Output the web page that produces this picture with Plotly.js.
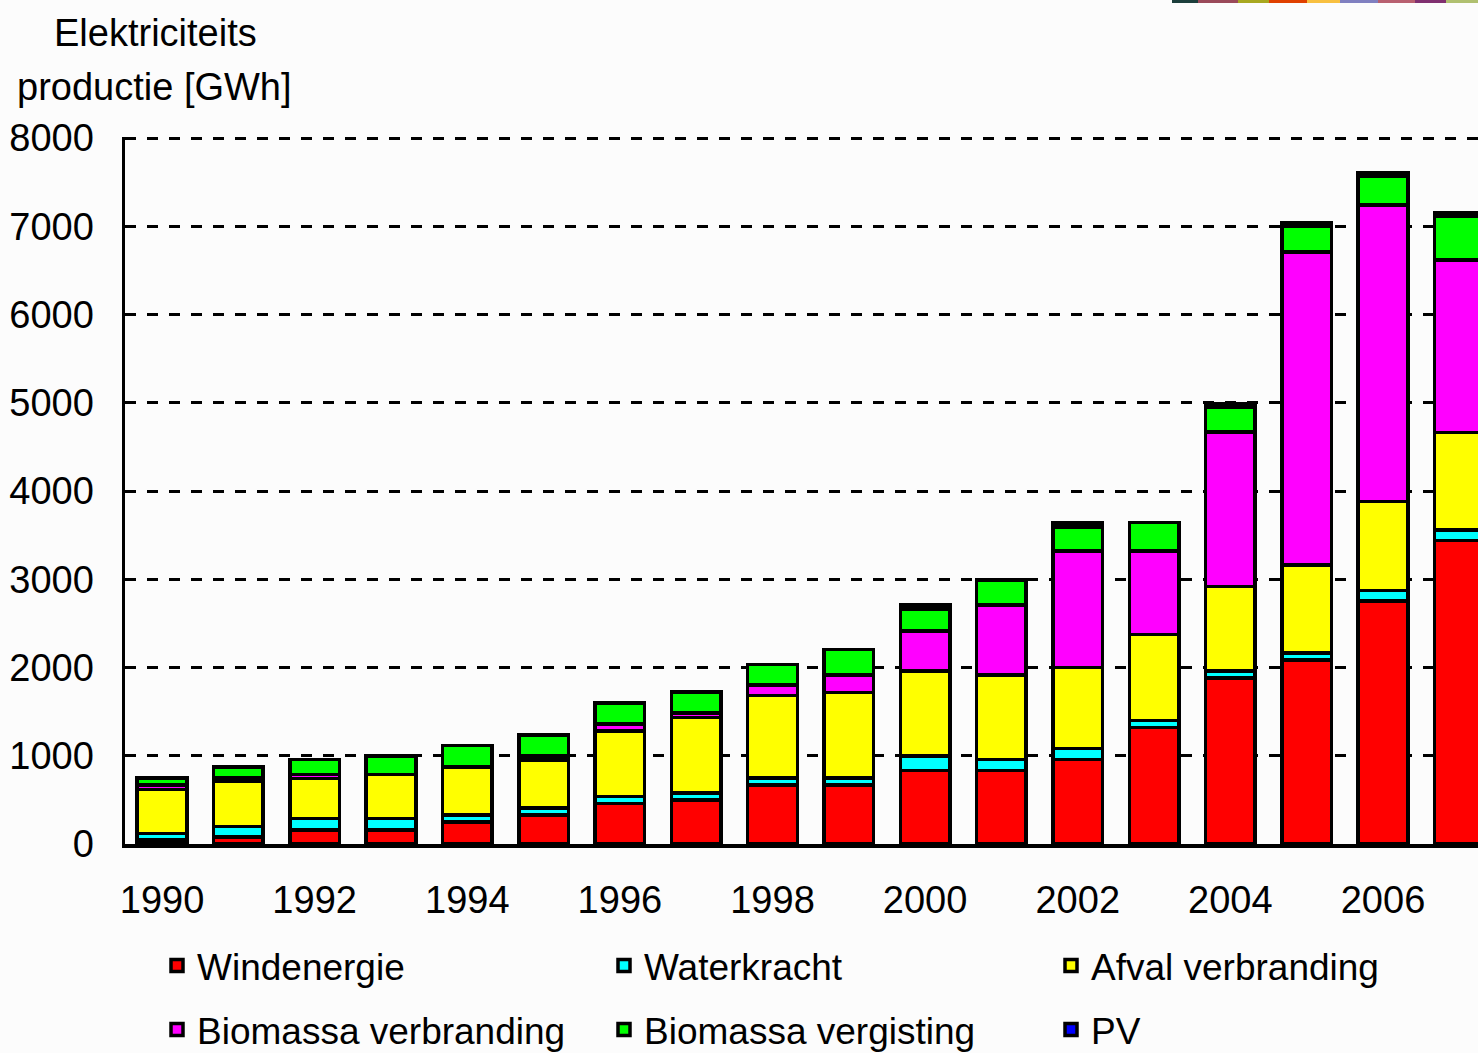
<!DOCTYPE html>
<html>
<head>
<meta charset="utf-8">
<script src="https://cdn.plot.ly/plotly-3.0.1.min.js"></script>
<style>
  html, body { margin: 0; padding: 0; background: #fcfcfc; }
  #chart { width: 1478px; height: 1053px; }
</style>
</head>
<body>
<div id="chart"></div>
<script>
// ---- data (GWh) ----
const years = [1990, 1991, 1992, 1993, 1994, 1995, 1996, 1997, 1998, 1999, 2000, 2001, 2002, 2003, 2004, 2005, 2006, 2007];
const windenergie          = [45, 79, 160, 160, 250, 329, 459, 497, 668, 668, 832, 832, 959, 1321, 1881, 2084, 2751, 3438];
const waterkracht          = [75, 122, 128, 128, 79, 81, 81, 81, 81, 81, 165, 126, 121, 76, 80, 81, 119, 118];
const afvalVerbranding     = [495, 507, 455, 499, 546, 543, 740, 855, 932, 968, 962, 960, 920, 976, 955, 995, 1012, 1108];
const biomassaVerbranding  = [54, 42, 42, 0, 0, 42, 80, 51, 119, 201, 457, 790, 1319, 946, 1752, 3550, 3359, 1957];
const biomassaVergisting   = [78, 125, 172, 210, 244, 241, 237, 236, 236, 285, 246, 285, 274, 322, 286, 287, 322, 498];
const pv                   = [0, 0, 0, 0, 0, 0, 0, 0, 0, 0, 0, 0, 0, 0, 0, 0, 0, 0];
const overig               = [0, 0, 0, 0, 0, 0, 0, 0, 0, 0, 49, 0, 51, 0, 38, 40, 40, 40];

const seriesNames  = ['Windenergie', 'Waterkracht', 'Afval verbranding', 'Biomassa verbranding', 'Biomassa vergisting', 'PV', 'Overig'];
const seriesColors = ['#ff0000', '#00ffff', '#ffff00', '#ff00ff', '#00ff00', '#0000ff', '#000000'];
const seriesValues = [windenergie, waterkracht, afvalVerbranding, biomassaVerbranding, biomassaVergisting, pv, overig];
const legendOf     = ['legend', 'legend', 'legend', 'legend2', 'legend2', 'legend2', null];

const yTicks = [0, 1000, 2000, 3000, 4000, 5000, 6000, 7000, 8000];
const xTicks = [1990, 1992, 1994, 1996, 1998, 2000, 2002, 2004, 2006];
const titleLines = ['Elektriciteits', 'productie [GWh]'];
const stripColors = ['#1c3f3c', '#9a4a5a', '#a8a820', '#e04000', '#f8c040', '#8080c0', '#b86070', '#803070', '#b0c070'];

// ---- geometry helpers (page pixels -> paper) ----
const W = 1478, H = 1053;
const L = 125, T = 137, B = 844;
const plotW = W - L, plotH = B - T;
const px2x = p => (p - L) / plotW;
const px2y = p => (B - p) / plotH;

const FONT = 'Arial, "Liberation Sans", sans-serif';

const traces = seriesNames.map((name, i) => {
  const t = {
    type: 'bar',
    name: name,
    x: years,
    y: seriesValues[i],
    width: 0.65,
    marker: { color: seriesColors[i], line: { color: '#000000', width: 3.5 } },
    hoverinfo: 'x+y+name'
  };
  if (legendOf[i]) { t.legend = legendOf[i]; } else { t.showlegend = false; }
  return t;
});

const stripEdges = [1172, 1198, 1238, 1269, 1307, 1340, 1378, 1415, 1446, 1478];
const shapes = stripColors.map((c, i) => ({
  type: 'rect', xref: 'paper', yref: 'paper', layer: 'above',
  x0: px2x(stripEdges[i]), x1: px2x(stripEdges[i + 1]),
  y0: px2y(3), y1: px2y(0),
  fillcolor: c, line: { width: 0 }
}));

const legendCommon = {
  orientation: 'h', xref: 'container', yref: 'container',
  x: 157 / W, xanchor: 'left', yanchor: 'middle',
  traceorder: 'normal', entrywidth: 402, entrywidthmode: 'pixels',
  font: { family: FONT, size: 37, color: '#000000' },
  bgcolor: 'rgba(0,0,0,0)', borderwidth: 0
};

const layout = {
  width: W, height: H,
  margin: { l: L, r: 0, t: T, b: H - B, pad: 0 },
  paper_bgcolor: '#fcfcfc',
  plot_bgcolor: '#fcfcfc',
  barmode: 'stack',
  font: { family: FONT, size: 38, color: '#000000' },
  showlegend: true,
  xaxis: {
    range: [1989.515, 2007.245],
    tickmode: 'array', tickvals: xTicks, ticktext: xTicks.map(String),
    ticks: '', showgrid: false, zeroline: false,
    showline: true, linecolor: '#000000', linewidth: 3.5,
    tickfont: { family: FONT, size: 38, color: '#000000' },
    ticklabelstandoff: 20
  },
  yaxis: {
    range: [0, 8012],
    tickmode: 'array', tickvals: yTicks, ticktext: yTicks.map(String),
    ticks: '', zeroline: false,
    showline: true, linecolor: '#000000', linewidth: 3.5,
    showgrid: true, gridcolor: '#000000', gridwidth: 3, griddash: '11px,11px',
    tickfont: { family: FONT, size: 38, color: '#000000' },
    ticklabelstandoff: 20
  },
  legend: Object.assign({}, legendCommon, { y: 1 - 966 / H }),
  legend2: Object.assign({}, legendCommon, { y: 1 - 1030 / H }),
  annotations: [
    { text: titleLines[0], xref: 'paper', yref: 'paper', x: px2x(155), y: px2y(33),
      xanchor: 'center', yanchor: 'middle', showarrow: false,
      font: { family: FONT, size: 38, color: '#000000' } },
    { text: titleLines[1], xref: 'paper', yref: 'paper', x: px2x(154), y: px2y(87),
      xanchor: 'center', yanchor: 'middle', showarrow: false,
      font: { family: FONT, size: 38, color: '#000000' } }
  ],
  shapes: shapes
};

Plotly.newPlot('chart', traces, layout, { displayModeBar: false, staticPlot: true });
</script>
</body>
</html>
